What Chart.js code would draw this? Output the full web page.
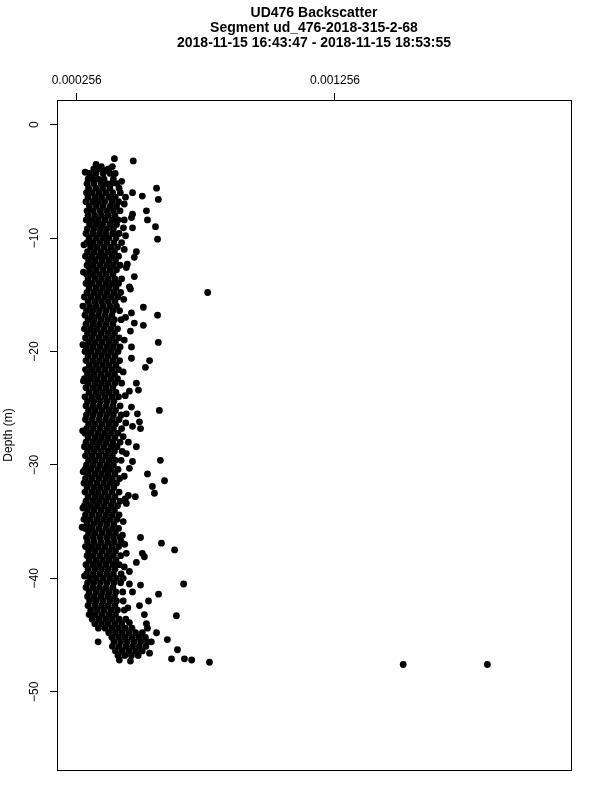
<!DOCTYPE html>
<html>
<head>
<meta charset="utf-8">
<script src="https://cdn.jsdelivr.net/npm/chart.js@4.4.1/dist/chart.umd.min.js"></script>
<style>
  html, body { margin: 0; padding: 0; background: #fff; }
  canvas { display: block; }
</style>
</head>
<body>
<canvas id="chart" width="600" height="800"></canvas>
<script>
const titleLines = [
  'UD476 Backscatter',
  'Segment ud_476-2018-315-2-68',
  '2018-11-15 16:43:47 - 2018-11-15 18:53:55',
];
const yLabel = 'Depth (m)';
const xTicks = [0.000256, 0.001256];
const yTicks = [0, -10, -20, -30, -40, -50];

// rows: [depth (m), backscatter values x 1e-6 ...]
const pingsUpper = [
  [-3.0, 402], [-3.2, 475], [-3.5, 331], [-3.7, 351, 394], [-4.0, 371],
  [-4.2, 289], [-4.6, 316],
  [-3.9, 322, 345, 380],
  [-4.3, 305, 330, 358, 385, 405],
  [-4.8, 300, 318, 340, 362, 398],
  [-5.0, 430],
  [-5.2, 296, 322, 350, 372, 390, 412],
  [-5.6, 302, 330, 356, 384, 420, 565],
  [-6.0, 294, 316, 342, 368, 395, 425, 472],
  [-6.3, 510],
  [-6.4, 300, 327, 352, 380, 405, 445],
  [-6.6, 572],
  [-6.8, 292, 318, 340, 364, 392, 418],
  [-7.0, 440],
  [-7.2, 305, 332, 358, 385, 410],
  [-7.6, 296, 320, 347, 372, 398, 424, 526],
  [-7.9, 472],
  [-8.0, 300, 326, 352, 378, 404],
  [-8.2, 468],
  [-8.4, 293, 315, 340, 366, 392, 416, 440, 530],
  [-8.8, 306, 332, 356, 384, 410],
  [-9.0, 561],
  [-9.1, 437, 472],
  [-9.2, 297, 322, 348, 372, 398],
  [-9.6, 292, 318, 344, 368, 395, 420],
  [-9.8, 445],
  [-10.0, 304, 330, 356, 380, 408],
  [-10.1, 569],
  [-10.4, 296, 320, 346, 372, 400, 430],
  [-10.6, 284],
  [-10.8, 310, 336, 362, 388, 414],
  [-11.0, 440],
  [-11.2, 298, 324, 350, 376, 402, 487],
  [-11.6, 290, 316, 342, 366, 392, 418],
  [-11.7, 479],
  [-12.0, 302, 328, 354, 380, 406],
  [-12.3, 452],
  [-12.4, 296, 320, 346, 372, 398, 424],
  [-12.6, 448],
  [-12.8, 306, 332, 358, 384, 410],
  [-13.0, 282],
  [-13.2, 294, 318, 344, 370, 396],
  [-13.4, 479],
  [-13.6, 300, 326, 352, 378, 404, 430],
  [-14.0, 292, 316, 342, 368, 394, 418],
  [-14.3, 460],
  [-14.4, 304, 330, 356, 382, 408],
  [-14.5, 464],
  [-14.8, 763],
];

const pingsMiddle = [
  [-14.8, 296, 322, 348, 374, 400, 426],
  [-15.2, 286, 312, 338, 364, 390, 415],
  [-15.4, 438],
  [-15.6, 300, 326, 352, 378, 404],
  [-16.0, 280, 306, 332, 358, 384, 410],
  [-16.1, 514],
  [-16.4, 294, 318, 344, 370, 396, 422],
  [-16.6, 468],
  [-16.8, 288, 314, 340, 366, 392, 569],
  [-17.0, 445],
  [-17.2, 300, 324, 350, 376, 402, 428],
  [-17.5, 479],
  [-17.6, 292, 318, 344, 370, 396],
  [-17.7, 514],
  [-18.0, 286, 310, 336, 362, 388, 414],
  [-18.2, 464],
  [-18.4, 298, 324, 350, 376, 402],
  [-18.8, 290, 316, 342, 368, 394, 420],
  [-19.0, 440],
  [-19.2, 302, 328, 354, 380, 406, 572],
  [-19.4, 280],
  [-19.6, 294, 320, 346, 372, 398, 424, 468],
  [-20.0, 288, 312, 338, 364, 390, 416],
  [-20.4, 300, 326, 352, 378, 404],
  [-20.6, 468],
  [-20.8, 292, 318, 344, 370, 396, 422, 538],
  [-21.2, 305, 330, 356, 382, 408],
  [-21.4, 522],
  [-21.6, 290, 314, 340, 366, 392, 418],
  [-21.8, 436],
  [-22.0, 298, 324, 350, 376, 402],
  [-22.4, 286, 310, 336, 362, 388, 414],
  [-22.6, 282],
  [-22.8, 300, 326, 352, 378, 404, 430, 487],
  [-23.2, 292, 318, 344, 370, 396],
  [-23.4, 495],
  [-23.5, 460],
  [-23.6, 304, 330, 356, 382, 408],
  [-23.9, 444],
  [-24.0, 288, 314, 340, 366, 392, 418],
  [-24.4, 298, 322, 348, 374, 400],
  [-24.8, 292, 318, 344, 370, 396, 424],
  [-24.9, 468],
  [-25.2, 302, 328, 354, 380, 406, 576],
  [-25.5, 448, 491],
  [-25.6, 294, 320, 346, 372, 398, 428],
];

const pingsLower = [
  [-26.0, 290, 316, 342, 368, 394, 420],
  [-26.2, 499],
  [-26.3, 446],
  [-26.4, 302, 328, 354, 380, 406],
  [-26.6, 472],
  [-26.8, 294, 320, 346, 372, 398, 430, 503],
  [-27.0, 279],
  [-27.2, 288, 312, 338, 364, 390, 416],
  [-27.5, 436],
  [-27.6, 300, 326, 352, 378, 404],
  [-28.0, 292, 318, 344, 370, 396, 424, 456],
  [-28.4, 286, 310, 336, 362, 388, 412, 487],
  [-28.8, 298, 324, 350, 376, 402, 432],
  [-29.0, 448],
  [-29.2, 290, 316, 342, 368, 394],
  [-29.6, 302, 328, 354, 380, 406, 428, 580],
  [-29.7, 472],
  [-30.0, 294, 320, 346, 372, 398],
  [-30.3, 460],
  [-30.4, 288, 312, 338, 364, 390, 416],
  [-30.6, 281],
  [-30.8, 300, 326, 352, 378, 404, 530],
  [-31.0, 440],
  [-31.2, 290, 316, 342, 368, 394, 422],
  [-31.4, 596],
  [-31.6, 284, 308, 334, 360, 386, 410],
  [-31.9, 549],
  [-32.0, 296, 322, 348, 374, 400],
  [-32.4, 288, 314, 340, 366, 392, 420],
  [-32.5, 557],
  [-32.7, 456],
  [-32.8, 300, 326, 352, 378, 404, 483],
  [-33.0, 444],
  [-33.2, 292, 318, 344, 370, 396, 424],
  [-33.4, 448],
  [-33.6, 286, 310, 336, 362, 388, 414],
  [-33.8, 280],
  [-34.0, 298, 324, 350, 376, 402],
  [-34.4, 290, 316, 342, 368, 394, 420],
  [-34.8, 284, 308, 334, 360, 386, 412],
  [-35.0, 436],
  [-35.2, 296, 322, 348, 374, 400],
  [-35.5, 277, 300],
  [-35.6, 290, 316, 342, 368, 394, 418],
  [-36.0, 302, 328, 354, 380, 406],
  [-36.2, 433],
  [-36.4, 294, 320, 346, 372, 398, 424, 503],
  [-36.8, 298, 324, 350, 376, 402, 429],
  [-36.9, 584],
  [-37.0, 442],
  [-37.2, 290, 314, 340, 366, 392, 418],
  [-37.5, 635],
  [-37.6, 302, 328, 354, 380, 406],
  [-37.8, 448, 510],
];

const pingsBottom = [
  [-38.0, 296, 320, 346, 372, 398, 426],
  [-38.1, 518],
  [-38.4, 304, 330, 356, 382, 408],
  [-38.6, 487],
  [-38.8, 292, 318, 344, 370, 396, 420],
  [-39.0, 440],
  [-39.2, 300, 326, 352, 378, 404],
  [-39.4, 460],
  [-39.6, 294, 320, 346, 372, 398, 428],
  [-39.8, 286],
  [-40.0, 306, 332, 358, 384, 410, 436],
  [-40.4, 298, 322, 348, 374, 400, 426],
  [-40.5, 460, 670],
  [-40.6, 503],
  [-40.8, 292, 318, 344, 370, 396],
  [-41.2, 304, 330, 356, 382, 408, 434, 472],
  [-41.4, 573],
  [-41.6, 298, 324, 350, 376, 402],
  [-42.0, 306, 332, 358, 384, 410, 436, 534],
  [-42.4, 300, 326, 352, 378, 404, 499],
  [-42.6, 454],
  [-42.8, 310, 336, 362, 388, 414, 440],
  [-43.2, 304, 328, 354, 380, 406, 518],
  [-43.3, 642],
  [-43.6, 316, 342, 368, 394, 420, 446],
  [-43.9, 460],
  [-44.0, 326, 352, 378, 404, 430, 526],
  [-44.4, 340, 366, 392, 418, 444, 470, 530],
  [-44.8, 380, 406, 432, 458, 484, 510, 565],
  [-45.2, 392, 418, 444, 470, 496, 522],
  [-45.4, 607],
  [-45.6, 339, 400, 426, 452, 478, 504, 530, 545],
  [-46.0, 394, 420, 446, 472, 498, 524],
  [-46.3, 646],
  [-46.4, 406, 432, 458, 484, 510],
  [-46.6, 538],
  [-46.8, 416, 442, 468, 494],
  [-47.1, 623, 673],
  [-47.2, 421, 701],
  [-47.3, 464],
  [-47.4, 770],
  [-47.6, 1520, 1846],
];

const toPoints = (rows) =>
  rows.flatMap(([depth, ...vals]) => vals.map((v) => ({ x: v * 1e-6, y: depth })));

const points = [pingsUpper, pingsMiddle, pingsLower, pingsBottom].flatMap(toPoints);

const FONT = "'Liberation Sans', Arial, Helvetica, sans-serif";

const frame = {
  id: 'frame',
  afterDraw(chart) {
    const { ctx, chartArea: a } = chart;
    ctx.save();
    ctx.strokeStyle = '#000';
    ctx.lineWidth = 1;
    ctx.strokeRect(a.left + 0.5, a.top + 0.5, a.right - a.left, a.bottom - a.top);
    ctx.fillStyle = '#000';
    ctx.font = 'bold 14px ' + FONT;
    ctx.textAlign = 'center';
    ctx.textBaseline = 'middle';
    const cx = (a.left + a.right) / 2;
    titleLines.forEach((t, i) => ctx.fillText(t, cx, 13 + i * 15));
    ctx.restore();
  },
};

new Chart(document.getElementById('chart'), {
  type: 'scatter',
  data: {
    datasets: [
      {
        label: 'Backscatter',
        data: points,
        backgroundColor: '#000',
        borderWidth: 0,
        pointRadius: 3.4,
      },
    ],
  },
  options: {
    responsive: false,
    animation: false,
    events: [],
    layout: { padding: { left: 0, top: 0, right: 29, bottom: 30 } },
    plugins: {
      legend: { display: false },
      tooltip: { enabled: false },
    },
    scales: {
      x: {
        type: 'linear',
        position: 'top',
        min: 0.0001797,
        max: 0.0021697,
        afterBuildTicks: (s) => {
          s.ticks = xTicks.map((v) => ({ value: v }));
        },
        afterFit: (s) => {
          s.height = 100;
        },
        grid: { display: true, drawOnChartArea: false, tickLength: 7, color: '#000' },
        border: { display: false },
        ticks: {
          color: '#000',
          font: { family: FONT, size: 12 },
          padding: 5,
          maxRotation: 0,
          callback: (v) => Number(v).toFixed(6),
        },
      },
      y: {
        type: 'linear',
        position: 'left',
        min: -56.9,
        max: 2.17,
        afterBuildTicks: (s) => {
          s.ticks = yTicks.map((v) => ({ value: v }));
        },
        afterFit: (s) => {
          s.width = 57;
        },
        grid: { display: true, drawOnChartArea: false, tickLength: 7, color: '#000' },
        border: { display: false },
        title: {
          display: true,
          text: yLabel,
          color: '#000',
          font: { family: FONT, size: 12 },
          padding: { top: 1, bottom: 0 },
        },
        ticks: {
          color: '#000',
          font: { family: FONT, size: 12 },
          padding: 5,
          minRotation: 90,
          maxRotation: 90,
          crossAlign: 'center',
          callback: (v) => String(v).replace('-', '\u2212'),
        },
      },
    },
  },
  plugins: [frame],
});
</script>
</body>
</html>
